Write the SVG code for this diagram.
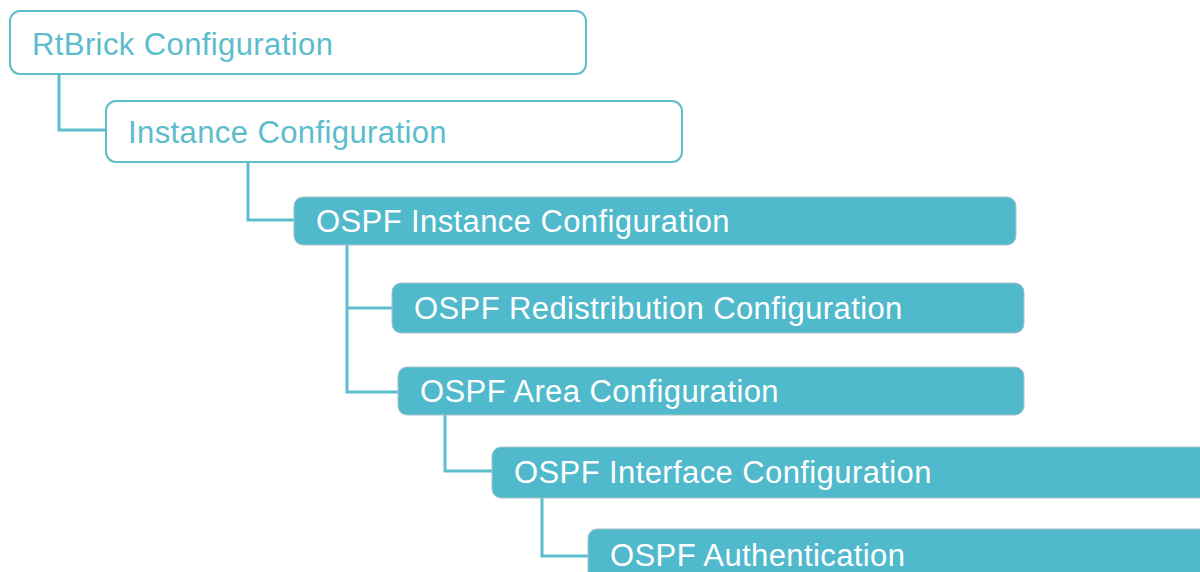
<svg xmlns="http://www.w3.org/2000/svg" width="1200" height="572" viewBox="0 0 1200 572">
<style>
.outline{fill:#ffffff;stroke:#5cbdcc;stroke-width:2}
.filled{fill:#50b9cb;stroke:#a9c4c8;stroke-width:1}
.t1{font-family:"Liberation Sans",Arial,sans-serif;font-size:31px;letter-spacing:0.4px;fill:#5cbdcc}
.t2{font-family:"Liberation Sans",Arial,sans-serif;font-size:31px;letter-spacing:0.4px;fill:#ffffff}
.conn{fill:none;stroke:#5cbdcc;stroke-width:3}
</style>
<rect width="1200" height="572" fill="#ffffff"/>
<g id="connectors">
<path class="conn" d="M59 74 V130 H106"/>
<path class="conn" d="M248 162 V220 H294"/>
<path class="conn" d="M347 245 V392 H398 M347 308 H392"/>
<path class="conn" d="M445 415 V471 H492"/>
<path class="conn" d="M542 498 V556 H588"/>
</g>
<g id="n1"><rect class="outline" x="10" y="11" width="576" height="63" rx="10"/><text class="t1" x="32" y="55">RtBrick Configuration</text></g>
<g id="n2"><rect class="outline" x="106" y="101" width="576" height="61" rx="10"/><text class="t1" x="128" y="143">Instance Configuration</text></g>
<g id="n3"><rect class="filled" x="294" y="197" width="722" height="48" rx="9"/><text class="t2" x="316" y="232">OSPF Instance Configuration</text></g>
<g id="n4"><rect class="filled" x="392" y="283" width="632" height="50" rx="9"/><text class="t2" x="414" y="319">OSPF Redistribution Configuration</text></g>
<g id="n5"><rect class="filled" x="398" y="367" width="626" height="48" rx="9"/><text class="t2" x="420" y="402">OSPF Area Configuration</text></g>
<g id="n6"><rect class="filled" x="492" y="447" width="730" height="51" rx="9"/><text class="t2" x="514" y="483">OSPF Interface Configuration</text></g>
<g id="n7"><rect class="filled" x="588" y="529" width="640" height="60" rx="9"/><text class="t2" x="610" y="566">OSPF Authentication</text></g>
</svg>
